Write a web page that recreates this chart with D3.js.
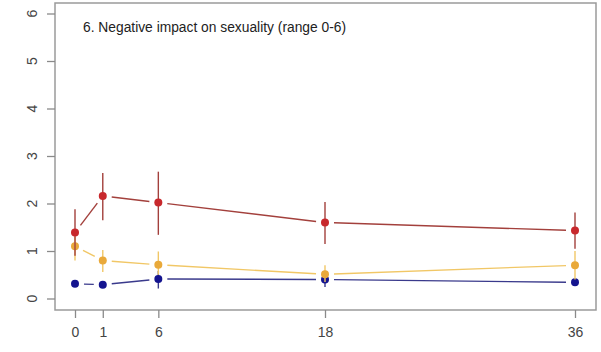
<!DOCTYPE html>
<meta charset="utf-8">
<style>
	body { margin: 0; background: #fff; }
	text { font-family: "Liberation Sans", Arial, sans-serif; }
</style>
<body>
<script src="https://d3js.org/d3.v7.min.js"></script>
<script>
// time points: plotted position and printed label
var xPos = [0, 2, 6, 18, 36];
var xLabels = ["0", "1", "6", "18", "36"];
var yTicks = [0, 1, 2, 3, 4, 5, 6];

// three groups: mean, lower, upper
var redMean  = [1.39, 2.16, 2.02, 1.60, 1.43];
var redLow   = [0.90, 1.65, 1.34, 1.15, 1.05];
var redHigh  = [1.88, 2.64, 2.67, 2.03, 1.81];

var orMean   = [1.10, 0.80, 0.71, 0.51, 0.70];
var orLow    = [0.80, 0.56, 0.50, 0.35, 0.40];
var orHigh   = [1.30, 1.02, 0.99, 0.70, 1.00];

var blMean   = [0.31, 0.29, 0.41, 0.40, 0.34];
var blLow    = [0.26, 0.24, 0.21, 0.24, 0.29];
var blHigh   = [0.36, 0.34, 0.58, 0.55, 0.39];

var title = "6. Negative impact on sexuality (range 0-6)";

var width = 601, height = 352;
var box = {left: 55, top: 3, right: 596, bottom: 310};

var x = d3.scaleLinear().domain([0, 36]).range([75, 575]);
var y = d3.scaleLinear().domain([0, 6]).range([298.5, 13.5]);

var svg = d3.select("body").append("svg")
	.attr("width", width)
	.attr("height", height);

// plot frame
svg.append("rect")
	.attr("x", box.left)
	.attr("y", box.top)
	.attr("width", box.right - box.left)
	.attr("height", box.bottom - box.top)
	.attr("fill", "none")
	.attr("stroke", "#9a9a9a")
	.attr("stroke-width", 1.5);

// y axis ticks and rotated labels
var yAxis = svg.append("g")
	.attr("transform", "translate(" + box.left + ",0)")
	.call(d3.axisLeft(y).tickValues(yTicks).tickSize(8).tickFormat(""));
yAxis.select(".domain").remove();
yAxis.selectAll("line").attr("stroke", "#8a8a8a").attr("stroke-width", 1.3);

svg.selectAll("text.ylab")
	.data(yTicks)
	.enter()
	.append("text")
	.attr("class", "ylab")
	.attr("transform", function(d) { return "translate(37," + y(d) + ") rotate(-90)"; })
	.attr("text-anchor", "middle")
	.attr("font-size", "14px")
	.attr("fill", "#444")
	.text(function(d) { return d; });

// x axis ticks and labels
var xAxis = svg.append("g")
	.attr("transform", "translate(0," + box.bottom + ")")
	.call(d3.axisBottom(x).tickValues(xPos).tickSize(8)
		.tickFormat(function(d, i) { return xLabels[i]; }));
xAxis.select(".domain").remove();
xAxis.selectAll("line").attr("stroke", "#8a8a8a").attr("stroke-width", 1.3);
xAxis.selectAll("text")
	.attr("font-size", "14px")
	.attr("font-family", "Liberation Sans, Arial, sans-serif")
	.attr("fill", "#444")
	.attr("y", 17);

// title
svg.append("text")
	.attr("x", 83)
	.attr("y", 32)
	.attr("font-size", "13.8px")
	.attr("fill", "#222")
	.text(title);

var groups = [
	{mean: blMean, low: blLow, high: blHigh, line: "#3a3a8c", dot: "#14148f"},
	{mean: orMean, low: orLow, high: orHigh, line: "#f1c766", dot: "#e9a93a"},
	{mean: redMean, low: redLow, high: redHigh, line: "#a3403c", dot: "#c8282c"}
];

var gap = 9;

groups.forEach(function(g) {
	var pts = xPos.map(function(v, i) { return [x(v), y(g.mean[i])]; });

	// error bars
	svg.append("g").selectAll("line")
		.data(xPos)
		.enter()
		.append("line")
		.attr("x1", function(d) { return x(d); })
		.attr("x2", function(d) { return x(d); })
		.attr("y1", function(d, i) { return y(g.low[i]); })
		.attr("y2", function(d, i) { return y(g.high[i]); })
		.attr("stroke", g.line)
		.attr("stroke-width", 1.4);

	// connecting segments with gaps at the points
	var segs = [];
	for (var i = 0; i < pts.length - 1; i++) {
		var a = pts[i], b = pts[i + 1];
		var dx = b[0] - a[0], dy = b[1] - a[1];
		var len = Math.sqrt(dx * dx + dy * dy);
		if (len <= 2 * gap) continue;
		var ux = dx / len, uy = dy / len;
		segs.push([a[0] + ux * gap, a[1] + uy * gap, b[0] - ux * gap, b[1] - uy * gap]);
	}
	svg.append("g").selectAll("line")
		.data(segs)
		.enter()
		.append("line")
		.attr("x1", function(d) { return d[0]; })
		.attr("y1", function(d) { return d[1]; })
		.attr("x2", function(d) { return d[2]; })
		.attr("y2", function(d) { return d[3]; })
		.attr("stroke", g.line)
		.attr("stroke-width", 1.4);

	// points
	svg.append("g").selectAll("circle")
		.data(pts)
		.enter()
		.append("circle")
		.attr("cx", function(d) { return d[0]; })
		.attr("cy", function(d) { return d[1]; })
		.attr("r", 4)
		.attr("fill", g.dot);
});
</script>
</body>
